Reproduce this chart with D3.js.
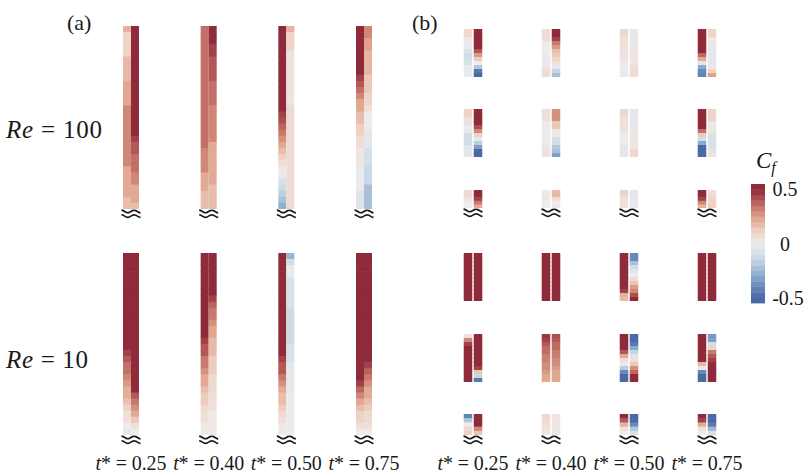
<!doctype html>
<html>
<head>
<meta charset="utf-8"/>
<style>
    html, body { margin: 0; padding: 0; background: #fff; }
    svg { display: block; font-family: "Liberation Serif", "Times New Roman", serif; }
    text { fill: #1a1a1a; }
    .squig { fill: none; stroke: #1a1a1a; stroke-width: 1.7; }
</style>
<script src="https://cdn.jsdelivr.net/npm/d3@7/dist/d3.min.js"></script>
</head>
<body>
<svg width="806" height="473"></svg>
<script>

// ---- labels / levels ----
var times = ["0.25", "0.40", "0.50", "0.75"];
var reNumbers = ["100", "10"];
var cfTicks = [0.5, 0, -0.5];
var cfLevels = [-0.55, -0.5, -0.45, -0.4, -0.35, -0.3, -0.25, -0.2, -0.15, -0.1, -0.05, 0,
                0.05, 0.1, 0.15, 0.2, 0.25, 0.3, 0.35, 0.4, 0.45, 0.5, 0.55];
var cfStops = [-0.5, -0.3, -0.15, 0, 0.12, 0.25, 0.4, 0.5];
var cfColours = ["#4a69a5", "#89a9cd", "#c4d6e4", "#eeedee", "#efd0c2", "#de9f86", "#b45857", "#8e2a3a"];

// ---- (a) Cf along the two walls, top to bottom, one array per time ----
var a100Left = [
    [0.2, 0.1, 0.1, 0.1, 0.1, 0.18, 0.18, 0.18, 0.18, 0.23, 0.23, 0.23, 0.23, 0.3, 0.3, 0.3, 0.3, 0.3, 0.3, 0.3, 0.3, 0.3, 0.3, 0.22, 0.22, 0.22, 0.22, 0.22, 0.17, 0.17],
    [0.35, 0.35, 0.35, 0.35, 0.35, 0.35, 0.35, 0.35, 0.35, 0.35, 0.35, 0.35, 0.35, 0.35, 0.35, 0.35, 0.35, 0.35, 0.35, 0.35, 0.3, 0.3, 0.3, 0.3, 0.22, 0.22, 0.22, 0.17, 0.17, 0.17],
    [0.55, 0.55, 0.55, 0.55, 0.55, 0.55, 0.55, 0.55, 0.55, 0.55, 0.55, 0.55, 0.55, 0.55, 0.45, 0.42, 0.37, 0.33, 0.28, 0.23, 0.17, 0.12, 0.07, 0.02, -0.03, -0.08, -0.12, -0.17, -0.22, -0.28],
    [0.55, 0.55, 0.55, 0.55, 0.55, 0.55, 0.55, 0.55, 0.45, 0.4, 0.35, 0.3, 0.23, 0.23, 0.17, 0.17, 0.12, 0.12, 0.07, 0.07, 0.03, 0.03, 0.03, -0.02, -0.02, -0.02, -0.02, -0.06, -0.06, -0.06]
];
var a100Right = [
    [0.55, 0.55, 0.55, 0.55, 0.55, 0.55, 0.55, 0.55, 0.55, 0.55, 0.55, 0.55, 0.55, 0.55, 0.55, 0.55, 0.55, 0.55, 0.45, 0.4, 0.4, 0.35, 0.35, 0.35, 0.3, 0.3, 0.22, 0.22, 0.22, 0.17],
    [0.55, 0.55, 0.55, 0.45, 0.45, 0.4, 0.4, 0.4, 0.4, 0.35, 0.35, 0.35, 0.35, 0.3, 0.3, 0.3, 0.3, 0.3, 0.3, 0.22, 0.22, 0.22, 0.22, 0.22, 0.22, 0.22, 0.17, 0.17, 0.17, 0.17],
    [0.2, 0.1, 0.1, 0.1, 0.04, 0.04, 0.04, 0.04, 0.04, 0.04, 0.04, 0.04, 0.04, 0.08, 0.08, 0.08, 0.08, 0.08, 0.08, 0.08, 0.08, 0.08, 0.08, 0.08, 0.08, 0.08, 0.08, 0.08, 0.08, 0.08],
    [0.3, 0.3, 0.24, 0.24, 0.19, 0.19, 0.19, 0.19, 0.14, 0.14, 0.14, 0.1, 0.1, 0.06, 0.01, 0.01, 0.01, -0.04, -0.04, -0.04, -0.09, -0.09, -0.09, -0.13, -0.13, -0.13, -0.22, -0.22, -0.22, -0.22]
];
var a10Left = [
    [0.55, 0.55, 0.55, 0.55, 0.55, 0.55, 0.55, 0.55, 0.55, 0.55, 0.55, 0.55, 0.55, 0.55, 0.55, 0.55, 0.45, 0.4, 0.35, 0.35, 0.3, 0.26, 0.21, 0.21, 0.16, 0.11, 0.06, 0.06, 0.01, -0.03],
    [0.55, 0.55, 0.55, 0.55, 0.55, 0.55, 0.55, 0.55, 0.55, 0.55, 0.55, 0.55, 0.55, 0.55, 0.45, 0.4, 0.4, 0.33, 0.33, 0.28, 0.22, 0.22, 0.17, 0.13, 0.13, 0.08, 0.06, 0.06, 0.02, 0.02],
    [0.55, 0.55, 0.55, 0.55, 0.55, 0.55, 0.55, 0.55, 0.55, 0.55, 0.55, 0.55, 0.55, 0.55, 0.55, 0.55, 0.55, 0.45, 0.4, 0.4, 0.33, 0.28, 0.22, 0.17, 0.17, 0.13, 0.08, 0.06, 0.02, 0.02],
    [0.55, 0.55, 0.55, 0.55, 0.55, 0.55, 0.55, 0.55, 0.55, 0.55, 0.55, 0.55, 0.55, 0.55, 0.55, 0.55, 0.55, 0.55, 0.55, 0.55, 0.55, 0.45, 0.37, 0.3, 0.23, 0.17, 0.11, 0.11, 0.06, 0.0]
];
var a10Right = [
    [0.55, 0.55, 0.55, 0.55, 0.55, 0.55, 0.55, 0.55, 0.55, 0.55, 0.55, 0.55, 0.55, 0.55, 0.55, 0.55, 0.55, 0.55, 0.55, 0.55, 0.55, 0.55, 0.55, 0.4, 0.33, 0.28, 0.22, 0.14, 0.06, 0.0],
    [0.55, 0.55, 0.55, 0.55, 0.55, 0.55, 0.55, 0.45, 0.38, 0.33, 0.33, 0.28, 0.23, 0.23, 0.18, 0.18, 0.18, 0.13, 0.13, 0.13, 0.08, 0.08, 0.08, 0.06, 0.06, 0.06, 0.02, 0.02, 0.02, 0.02],
    [-0.26, -0.1, -0.02, -0.02, -0.07, -0.07, -0.07, -0.07, -0.07, -0.12, -0.12, -0.12, -0.12, -0.12, -0.12, -0.07, -0.07, -0.07, -0.03, -0.03, -0.03, -0.03, -0.03, -0.01, -0.01, -0.01, -0.01, -0.01, -0.01, -0.01],
    [0.55, 0.55, 0.55, 0.55, 0.55, 0.55, 0.55, 0.55, 0.55, 0.55, 0.55, 0.55, 0.55, 0.55, 0.55, 0.55, 0.55, 0.55, 0.45, 0.38, 0.33, 0.28, 0.22, 0.22, 0.17, 0.13, 0.08, 0.08, 0.06, 0.0]
];

// ---- (b) three wall sections per time, [section][time] ----
var b100Left = [
    [[0.09, 0.09, 0.03, -0.02, -0.02, -0.07, -0.1, -0.1, -0.07, -0.02, -0.02, -0.02],
     [0.07, 0.07, 0.07, 0.01, 0.01, 0.01, -0.02, -0.02, -0.02, 0.03, 0.07, 0.07],
     [0.09, 0.09, 0.06, 0.06, 0.06, 0.04, 0.04, 0.04, -0.02, -0.02, -0.02, -0.02],
     [0.55, 0.55, 0.55, 0.55, 0.55, 0.55, 0.37, 0.22, -0.05, -0.3, -0.4, -0.42]],
    [[0.1, 0.1, 0.05, 0.05, -0.02, -0.02, -0.1, -0.1, -0.1, -0.05, -0.04, -0.04],
     [0.06, 0.06, 0.06, -0.01, -0.01, -0.01, -0.01, -0.01, -0.01, 0.04, 0.05, 0.05],
     [0.09, 0.09, 0.05, 0.05, 0.05, 0.05, 0.0, 0.0, 0.0, -0.04, -0.04, -0.04],
     [0.55, 0.55, 0.55, 0.55, 0.55, 0.35, 0.13, -0.1, -0.3, -0.5, -0.5, -0.5]],
    [[0.08, 0.08, 0.04, 0.0, 0.0],
     [-0.01, 0.03, 0.03, 0.0, 0.0],
     [0.11, 0.1, 0.05, 0.05, 0.05],
     [0.55, 0.55, 0.45, 0.3, 0.2]]
];
var b100Right = [
    [[0.55, 0.55, 0.55, 0.55, 0.55, 0.4, 0.26, 0.13, 0.0, -0.2, -0.45, -0.5],
     [0.55, 0.55, 0.45, 0.33, 0.26, 0.17, 0.14, 0.1, 0.06, -0.03, -0.15, -0.22],
     [-0.03, -0.03, -0.03, -0.03, 0.03, 0.03, 0.03, 0.03, 0.03, 0.07, 0.07, 0.07],
     [0.1, 0.1, 0.03, 0.03, -0.04, -0.04, -0.04, -0.04, -0.04, 0.02, 0.1, 0.24]],
    [[0.55, 0.55, 0.55, 0.55, 0.42, 0.3, 0.12, -0.03, -0.18, -0.33, -0.5, -0.5],
     [0.28, 0.28, 0.28, 0.14, 0.14, 0.03, 0.03, -0.1, -0.1, -0.2, -0.22, -0.33],
     [-0.04, -0.04, -0.04, -0.04, -0.04, 0.03, 0.03, 0.03, 0.03, 0.03, 0.09, 0.09],
     [0.1, 0.1, 0.1, 0.03, 0.03, 0.03, -0.07, -0.07, -0.07, -0.07, 0.05, 0.05]],
    [[0.55, 0.55, 0.45, 0.33, 0.22],
     [0.18, 0.18, 0.06, 0.0, -0.02],
     [-0.04, -0.04, -0.03, -0.02, -0.02],
     [0.05, 0.08, 0.1, 0.1, 0.12]]
];
var b10Left = [
    [[0.55, 0.55, 0.55, 0.55, 0.55, 0.55, 0.55, 0.55, 0.55, 0.55, 0.55, 0.55],
     [0.55, 0.55, 0.55, 0.55, 0.55, 0.55, 0.55, 0.55, 0.55, 0.55, 0.55, 0.55],
     [0.55, 0.55, 0.55, 0.55, 0.55, 0.55, 0.55, 0.55, 0.55, 0.45, 0.2, 0.18],
     [0.55, 0.55, 0.55, 0.55, 0.55, 0.55, 0.55, 0.55, 0.55, 0.55, 0.55, 0.55]],
    [[0.05, 0.3, 0.45, 0.55, 0.55, 0.55, 0.55, 0.55, 0.55, 0.55, 0.55, 0.55],
     [0.47, 0.45, 0.4, 0.36, 0.36, 0.32, 0.32, 0.29, 0.29, 0.26, 0.23, 0.23],
     [0.55, 0.55, 0.55, 0.55, 0.4, 0.22, 0.06, -0.02, -0.18, -0.4, -0.5, -0.5],
     [0.55, 0.55, 0.55, 0.55, 0.55, 0.55, 0.55, 0.18, -0.03, -0.4, -0.5, -0.5]],
    [[-0.42, -0.2, 0.0, 0.08, 0.12],
     [0.09, 0.08, 0.06, 0.04, 0.03],
     [0.55, 0.4, 0.2, 0.05, 0.0],
     [0.55, 0.45, 0.22, 0.06, 0.0]]
];
var b10Right = [
    [[0.55, 0.55, 0.55, 0.55, 0.55, 0.55, 0.55, 0.55, 0.55, 0.55, 0.55, 0.55],
     [0.55, 0.55, 0.55, 0.55, 0.55, 0.55, 0.55, 0.55, 0.55, 0.55, 0.55, 0.55],
     [-0.4, -0.4, -0.22, -0.1, -0.05, 0.0, 0.07, 0.15, 0.26, 0.3, 0.42, 0.55],
     [0.55, 0.55, 0.55, 0.55, 0.55, 0.55, 0.55, 0.55, 0.55, 0.55, 0.55, 0.55]],
    [[0.55, 0.55, 0.55, 0.55, 0.55, 0.55, 0.55, 0.55, 0.45, 0.15, -0.14, -0.45],
     [0.42, 0.4, 0.36, 0.36, 0.32, 0.32, 0.29, 0.29, 0.26, 0.23, 0.23, 0.23],
     [-0.5, -0.5, -0.45, -0.3, -0.15, -0.05, 0.06, 0.14, 0.28, 0.37, 0.5, 0.55],
     [-0.35, -0.33, -0.1, 0.11, 0.33, 0.4, 0.45, 0.55, 0.55, 0.55, 0.55, 0.55]],
    [[0.55, 0.55, 0.5, 0.3, 0.15],
     [0.04, 0.03, 0.03, 0.03, 0.03],
     [-0.5, -0.5, -0.4, -0.2, -0.08],
     [-0.5, -0.5, -0.45, -0.25, -0.08]]
];

var svg = d3.select("svg");
var colour = d3.scaleLinear().domain(cfStops).range(cfColours).clamp(true);

// one wall strip: equal segments from y0 to y1
function drawStrip(vals, x0, w, y0, y1) {
    var y = d3.scaleLinear().domain([0, vals.length]).range([y0, y1]);
    svg.append("g").selectAll("rect").data(vals).enter().append("rect")
        .attr("x", x0)
        .attr("width", w)
        .attr("y", function(d, i) { return y(i); })
        .attr("height", function(d, i) { return y(i + 1) - y(i) + (i < vals.length - 1 ? 0.6 : 0); })
        .attr("fill", function(d) { return colour(d); });
}

// the little "cut" mark under a wall
var wave = d3.line().curve(d3.curveBasis);
function squiggle(cx, cy, w) {
    [-2.3, 2.3].forEach(function(dy) {
        var pts = [];
        for (var k = 0; k <= 12; k++) {
            var t = k / 12;
            pts.push([cx - w / 2 + t * w, cy + dy + 1.4 * Math.sin(-Math.PI / 2 + t * 3 * Math.PI)]);
        }
        svg.append("path").attr("class", "squig").attr("d", wave(pts));
    });
}

// ---- panel (a) ----
var xa = d3.scalePoint().domain(times).range([131, 364]);
var aRows = [
    {L: a100Left, R: a100Right, top: 26, bottom: 209},
    {L: a10Left, R: a10Right, top: 253, bottom: 435}
];
aRows.forEach(function(r) {
    times.forEach(function(t, j) {
        var cx = xa(t);
        drawStrip(r.L[j], cx - 8, 8, r.top, r.bottom);
        drawStrip(r.R[j], cx, 8, r.top, r.bottom);
        squiggle(cx, r.bottom + 4.8, 19);
    });
});

// ---- panel (b) ----
var xb = d3.scalePoint().domain(times).range([473, 707]);
var bRows = [
    {L: b100Left, R: b100Right, spans: [[29, 77], [109, 157], [190, 208]]},
    {L: b10Left, R: b10Right, spans: [[253, 301], [334, 382], [414, 435]]}
];
bRows.forEach(function(r) {
    r.spans.forEach(function(sp, k) {
        times.forEach(function(t, j) {
            var cx = xb(t);
            drawStrip(r.L[k][j], cx - 9.25, 8.5, sp[0], sp[1]);
            drawStrip(r.R[k][j], cx + 0.75, 8.5, sp[0], sp[1]);
            if (k === 2) squiggle(cx, sp[1] + 4.8, 19);
        });
    });
});

// ---- time labels ----
[xa, xb].forEach(function(x) {
    times.forEach(function(t) {
        var tx = svg.append("text")
            .attr("x", x(t)).attr("y", 470)
            .attr("text-anchor", "middle")
            .attr("textLength", 71)
            .attr("lengthAdjust", "spacing")
            .style("font-size", "20px");
        tx.append("tspan").style("font-style", "italic").text("t");
        tx.append("tspan").text("* = " + t);
    });
});

// ---- panel letters & Re labels ----
svg.append("text").attr("x", 67).attr("y", 30).style("font-size", "22px").text("(a)");
svg.append("text").attr("x", 412).attr("y", 30).style("font-size", "22px").text("(b)");

var reY = [138, 368];
var reLen = [96, 82];
reNumbers.forEach(function(n, i) {
    var tx = svg.append("text").attr("x", 6).attr("y", reY[i])
        .attr("textLength", reLen[i]).attr("lengthAdjust", "spacing")
        .style("font-size", "25px");
    tx.append("tspan").style("font-style", "italic").text("Re");
    tx.append("tspan").text(" = " + n);
});

// ---- colour bar ----
var cbY = d3.scaleLinear().domain([-0.55, 0.55]).range([303, 184]);
var bands = d3.pairs(cfLevels);
svg.append("g").selectAll("rect").data(bands).enter().append("rect")
    .attr("x", 751)
    .attr("width", 14)
    .attr("y", function(d) { return cbY(d[1]); })
    .attr("height", function(d) { return cbY(d[0]) - cbY(d[1]) + 0.4; })
    .attr("fill", function(d) { return colour((d[0] + d[1]) / 2); });

svg.append("g").selectAll("text").data(cfTicks).enter().append("text")
    .attr("x", function(d) { return d < 0 ? 788 : 785; })
    .attr("y", function(d) { return cbY(d); })
    .attr("dy", "0.35em")
    .attr("text-anchor", "middle")
    .style("font-size", "20px")
    .text(function(d) { return d === 0 ? "0" : String(d); });

var cf = svg.append("text").attr("x", 756).attr("y", 168).style("font-size", "23px");
cf.append("tspan").style("font-style", "italic").text("C");
cf.append("tspan").style("font-style", "italic").style("font-size", "16px").attr("dy", 5).text("f");

</script>
</body>
</html>
